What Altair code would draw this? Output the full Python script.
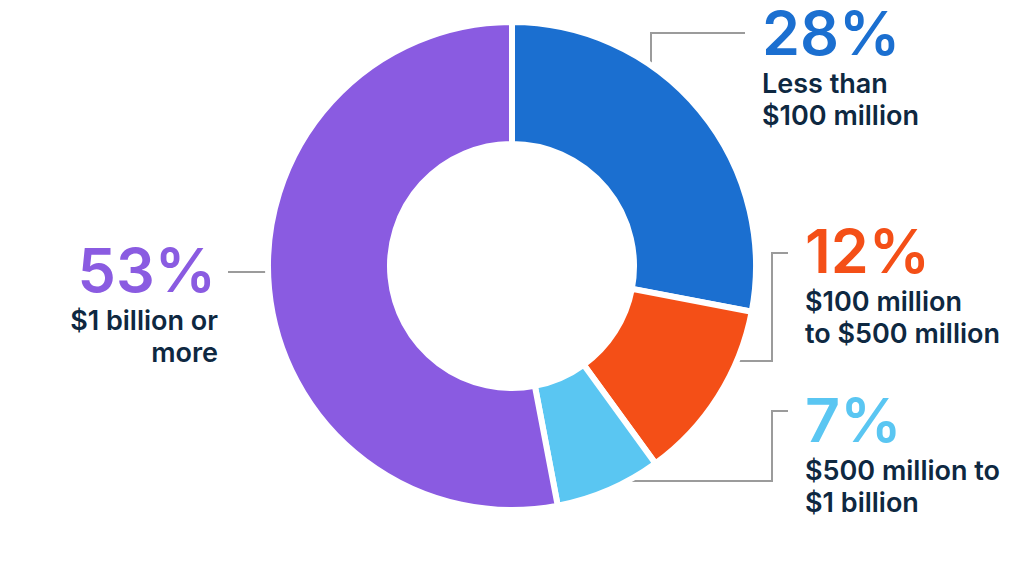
import altair as alt
import pandas as pd

# ---- data ----
categories = ["Less than $100 million", "$100 million to $500 million",
              "$500 million to $1 billion", "$1 billion or more"]
shares = [28, 12, 7, 53]
colors = ["#1b6fd0", "#f44f17", "#5ac6f2", "#8a5be1"]
label_lines = [["Less than", "$100 million"],
               ["$100 million", "to $500 million"],
               ["$500 million to", "$1 billion"],
               ["$1 billion or", "more"]]

# ---- layout (page pixel coordinates) ----
W, H = 1008, 545
X_DOM = [8, 8 + W]
Y_DOM = [8 + H, 8]
pie_center = (512, 266)
label_anchor = [(762, 55, "left"), (805, 273, "left"), (805, 442, "left"), (216, 292, "right")]
line_gap = 38
line_step = 32
connectors = [
    [(651, 70), (651, 33), (745, 33)],
    [(730, 361), (772, 361), (772, 253), (788, 253)],
    [(612, 481), (772, 481), (772, 411), (788, 411)],
    [(228, 272), (280, 272)],
]

xs = alt.Scale(domain=X_DOM)
ys = alt.Scale(domain=Y_DOM)

pie_df = pd.DataFrame({"cat": categories, "share": shares, "idx": list(range(len(shares)))})

arcs = alt.Chart(pie_df).mark_arc(
    outerRadius=244, innerRadius=122, stroke="white", strokeWidth=6
).encode(
    theta=alt.Theta("share:Q", stack=True),
    order=alt.Order("idx:Q"),
    color=alt.Color("cat:N", scale=alt.Scale(domain=categories, range=colors), legend=None),
    x=alt.datum(pie_center[0], scale=xs, axis=None),
    y=alt.datum(pie_center[1], scale=ys, axis=None),
)

rows = []
for i, pts in enumerate(connectors):
    for j, (px, py) in enumerate(pts):
        rows.append({"seg": i, "o": j, "x": px, "y": py})
conn_df = pd.DataFrame(rows)
lines = alt.Chart(conn_df).mark_line(color="#9b9b9b", strokeWidth=2, strokeCap="butt").encode(
    x=alt.X("x:Q", scale=xs, axis=None),
    y=alt.Y("y:Q", scale=ys, axis=None),
    detail="seg:N",
    order="o:Q",
)

big_rows, small_rows = [], []
for i, (v, c) in enumerate(zip(shares, colors)):
    ax, ay, al = label_anchor[i]
    big_rows.append({"x": ax, "y": ay, "t": f"{v}%", "c": c, "al": al})
    for k, ln in enumerate(label_lines[i]):
        small_rows.append({"x": ax + (2 if al == "right" else 0), "y": ay + line_gap + k * line_step,
                           "t": ln, "al": al})
big_df = pd.DataFrame(big_rows)
small_df = pd.DataFrame(small_rows)

def text_layer(df, align, **kw):
    return alt.Chart(df[df["al"] == align]).mark_text(
        align=align, baseline="alphabetic", font="Inter", **kw
    ).encode(
        x=alt.X("x:Q", scale=xs, axis=None),
        y=alt.Y("y:Q", scale=ys, axis=None),
        text="t:N",
    )

big_l = text_layer(big_df, "left", fontSize=61, fontWeight=600).encode(color=alt.Color("c:N", scale=None))
big_r = text_layer(big_df, "right", fontSize=61, fontWeight=600).encode(color=alt.Color("c:N", scale=None))
small_l = text_layer(small_df, "left", fontSize=27, fontWeight=600, color="#0e2841")
small_r = text_layer(small_df, "right", fontSize=27, fontWeight=600, color="#0e2841")

chart = alt.layer(lines, arcs, big_l, big_r, small_l, small_r).properties(
    width=W, height=H, padding=0, autosize=alt.AutoSizeParams(type="none")
).configure_view(stroke=None)

chart.save("out.html", embed_options={"renderer": "svg", "actions": False})
